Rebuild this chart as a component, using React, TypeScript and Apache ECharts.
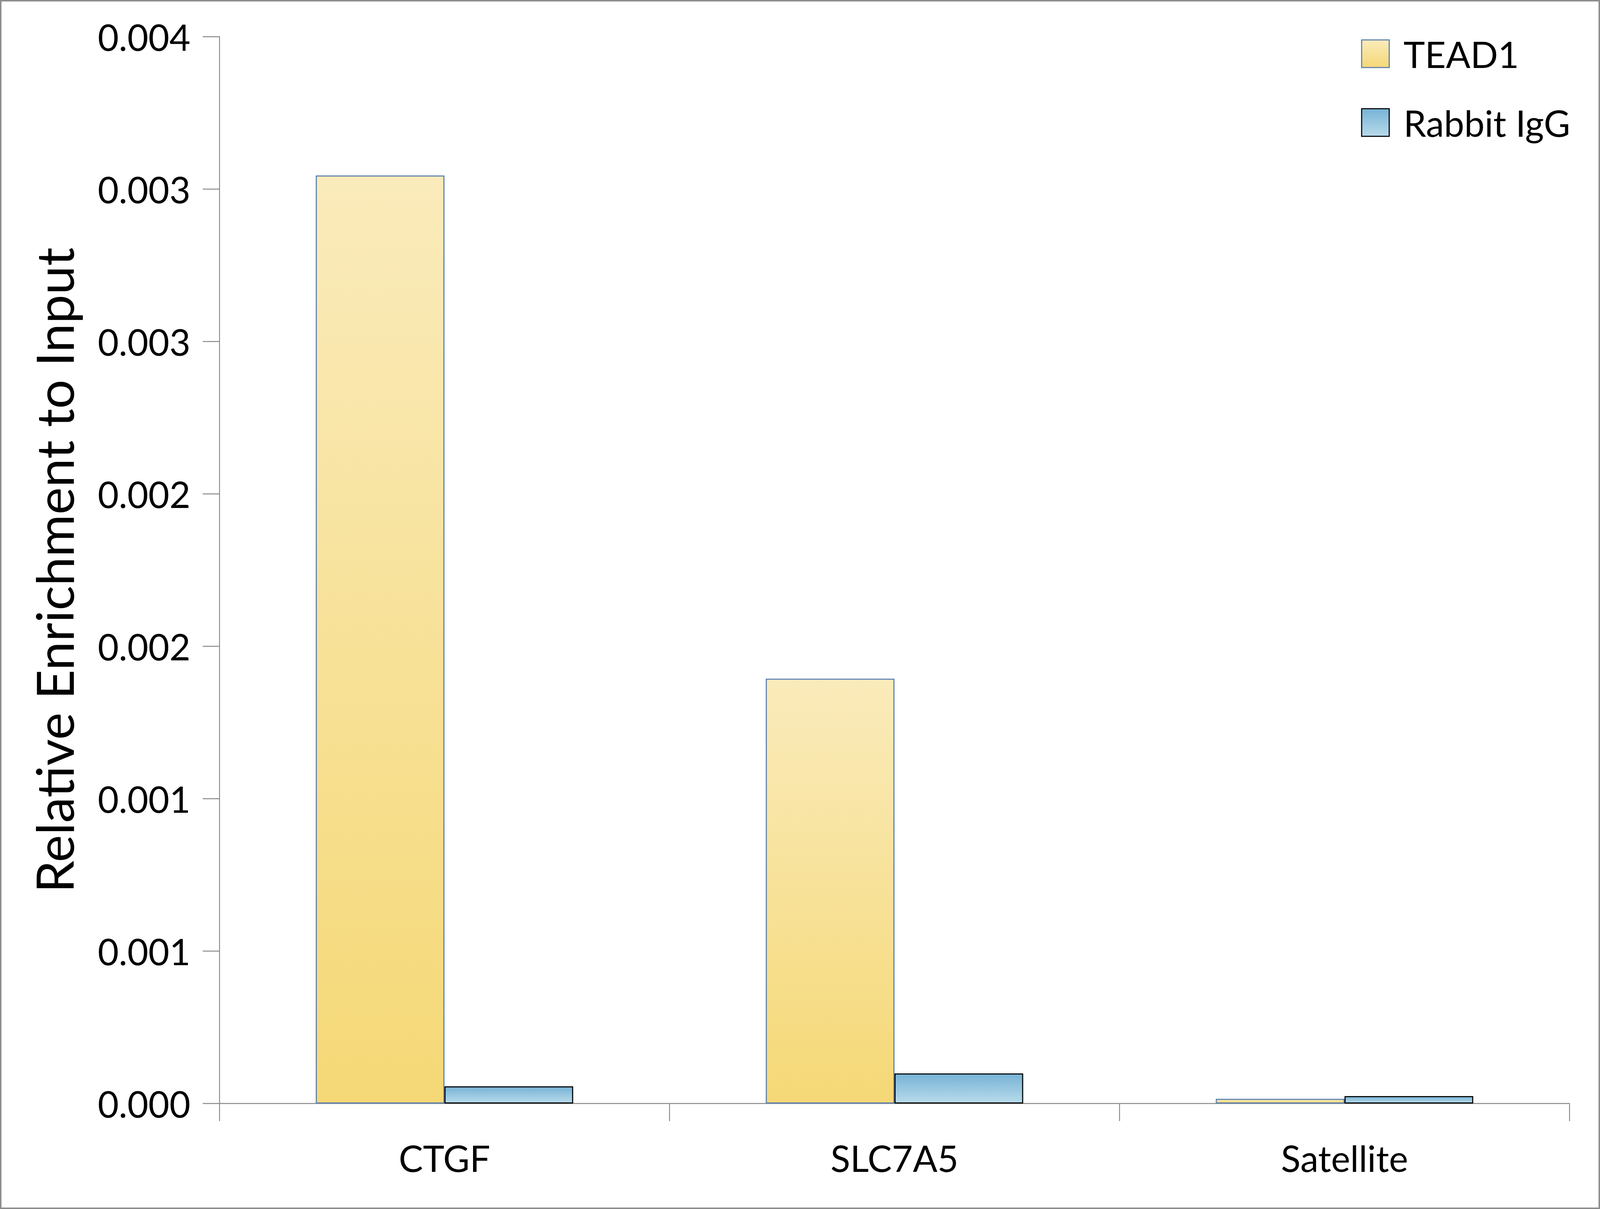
import React, { useEffect, useRef } from "react";
import * as echarts from "echarts";

const categories = ["CTGF", "SLC7A5", "Satellite"];
const tead1Values = [0.003045, 0.001394, 0.0000154];
const iggValues = [0.0000564, 0.0000987, 0.0000244];
const seriesNames = ["TEAD1", "Rabbit IgG"];
const yTickLabels = ["0.000", "0.001", "0.001", "0.002", "0.002", "0.003", "0.003", "0.004"];
const yInterval = 0.0005;
const yMax = 0.0035;

const FONT = "Lato";

export default function App() {
  const ref = useRef<HTMLDivElement>(null);
  useEffect(() => {
    document.body.style.margin = "0";
    document.body.style.overflow = "hidden";
    const el = ref.current!;
    const chart = echarts.init(el, null, { renderer: "svg" });
    const W = el.clientWidth;
    const H = el.clientHeight;
    const sx = W / 4411;
    const sy = H / 3094;
    const s = Math.min(sx, sy);
    const teadFill = new echarts.graphic.LinearGradient(0, 0, 0, 1, [
      { offset: 0, color: "#FAEBBB" },
      { offset: 1, color: "#F5D876" },
    ]);
    const iggFill = new echarts.graphic.LinearGradient(0, 0, 0, 1, [
      { offset: 0, color: "#77B3D5" },
      { offset: 1, color: "#B8DBEB" },
    ]);
    chart.setOption({
      animation: false,
      backgroundColor: "#ffffff",
      grid: { left: 605 * sx, right: 84 * sx, top: 94 * sy, bottom: 270 * sy, containLabel: false },
      legend: {
        left: 3747 * sx,
        top: 86 * sy,
        orient: "vertical",
        itemWidth: 76 * s,
        itemHeight: 76 * s,
        itemGap: 83 * sy,
        icon: "rect",
        textStyle: { fontFamily: FONT, fontSize: 100 * s, color: "#000", padding: [0, 0, 0, 34 * sx] },
        data: [
          { name: seriesNames[0], itemStyle: { color: teadFill, borderColor: "#5B7FB0", borderWidth: 3 * s } },
          { name: seriesNames[1], itemStyle: { color: iggFill, borderColor: "#000000", borderWidth: 3 * s } },
        ],
      },
      graphic: [
        {
          type: "rect",
          shape: { x: 2 * s, y: 2 * s, width: W - 4 * s, height: H - 4 * s },
          style: { fill: "none", stroke: "#8C8C8C", lineWidth: 4 * s },
          silent: true,
        },
      ],
      xAxis: {
        type: "category",
        data: categories,
        axisLine: { lineStyle: { color: "#888888", width: 2.5 * s } },
        axisTick: { show: true, length: 45 * sy, lineStyle: { color: "#888888", width: 2.5 * s } },
        axisLabel: { fontFamily: FONT, fontSize: 100 * s, color: "#000", margin: 92 * sy },
        splitLine: { show: false },
      },
      yAxis: {
        type: "value",
        min: 0,
        max: yMax,
        interval: yInterval,
        name: "Relative Enrichment to Input",
        nameLocation: "middle",
        nameRotate: 90,
        nameGap: 385 * sx,
        nameTextStyle: { fontFamily: FONT, fontSize: 132 * sy, color: "#000" },
        axisLine: { show: true, lineStyle: { color: "#888888", width: 2.5 * s } },
        axisTick: { show: true, length: 46 * sx, lineStyle: { color: "#888888", width: 2.5 * s } },
        axisLabel: {
          fontFamily: FONT,
          fontSize: 100 * s,
          color: "#000",
          margin: 80 * sx,
          formatter: (v: number) => yTickLabels[Math.round(v / yInterval)] ?? "",
        },
        splitLine: { show: false },
      },
      series: [
        {
          name: seriesNames[0],
          type: "bar",
          data: tead1Values,
          barWidth: "28.6%",
          barGap: "0%",
          itemStyle: { color: teadFill, borderColor: "#5B7FB0", borderWidth: 3 * s },
        },
        {
          name: seriesNames[1],
          type: "bar",
          data: iggValues,
          barWidth: "28.6%",
          barGap: "0%",
          itemStyle: { color: iggFill, borderColor: "#000000", borderWidth: 3 * s },
        },
      ],
    });
    return () => chart.dispose();
  }, []);
  return (
    <div
      ref={ref}
      style={{ position: "fixed", left: 0, top: 0, width: "100vw", height: "100vh" }}
    />
  );
}
